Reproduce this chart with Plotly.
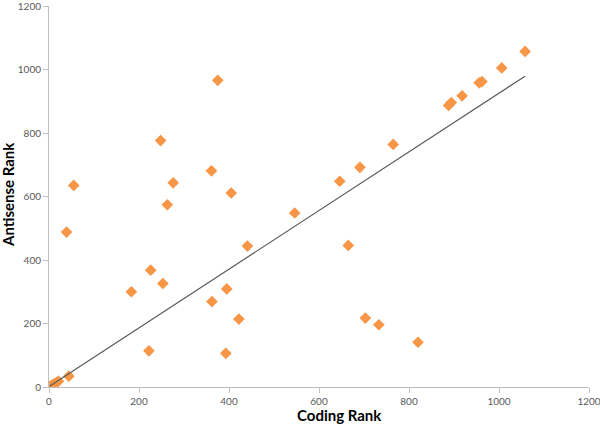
import plotly.graph_objects as go

coding_rank = [2, 5, 9, 13, 17, 21, 44, 39, 55, 183, 222, 226, 248, 253, 263, 276,
               361, 362, 375, 393, 395, 405, 422, 441, 546, 646, 665, 691, 703, 733,
               765, 820, 888, 894, 918, 956, 962, 1006, 1058]
antisense_rank = [2, 4, 8, 11, 15, 18, 34, 488, 635, 300, 114, 368, 776, 326, 574, 643,
                  681, 269, 966, 106, 309, 611, 214, 444, 548, 648, 446, 692, 217, 196,
                  764, 141, 887, 896, 917, 958, 962, 1005, 1057]

trend_slope = 0.924
trend_intercept = 1.5

x_ticks = [0, 200, 400, 600, 800, 1000, 1200]
y_ticks = [0, 200, 400, 600, 800, 1000, 1200]

x_min, x_max = min(coding_rank), max(coding_rank)

L, R, T, B = 49, 11, 6, 41
W, H = 600, 428
pw, ph = W - L - R, H - T - B

fig = go.Figure()
fig.add_trace(go.Scatter(
    x=coding_rank, y=antisense_rank, mode="markers",
    marker=dict(symbol="diamond", size=9, color="#F79646", line=dict(width=0)),
    showlegend=False, hoverinfo="x+y"))
fig.add_trace(go.Scatter(
    x=[x_min, x_max],
    y=[trend_slope * x_min + trend_intercept, trend_slope * x_max + trend_intercept],
    mode="lines", line=dict(color="#595959", width=1.2),
    showlegend=False, hoverinfo="skip"))

axis_common = dict(
    showgrid=False, zeroline=False, showline=True, linecolor="#BFBFBF", linewidth=1,
    ticks="outside", ticklen=5, tickcolor="#BFBFBF",
    tickfont=dict(family="Lato", size=10, color="#595959"),
    automargin=False, ticklabeloverflow="allow",
)

fig.update_layout(
    width=W, height=H,
    margin=dict(l=L, r=R, t=T, b=B),
    plot_bgcolor="white", paper_bgcolor="white",
    xaxis=dict(range=[0, 1200], tickvals=x_ticks, **axis_common),
    yaxis=dict(range=[0, 1200], tickvals=y_ticks, **axis_common),
    annotations=[
        dict(text="<b>Coding Rank</b>", x=(339 - L) / pw, y=(H - B - 426) / ph,
             xref="paper", yref="paper", showarrow=False,
             font=dict(family="Lato", size=15, color="#000000"),
             xanchor="center", yanchor="bottom"),
        dict(text="<b>Antisense Rank</b>", x=(8 - L) / pw, y=(H - B - 195) / ph,
             xref="paper", yref="paper", showarrow=False, textangle=-90,
             font=dict(family="Lato", size=15, color="#000000"),
             xanchor="center", yanchor="middle"),
    ],
)

fig.write_html(
    "out.html",
    config={"displayModeBar": False},
    post_script="document.body.style.margin='0';document.body.style.overflow='hidden';",
)
